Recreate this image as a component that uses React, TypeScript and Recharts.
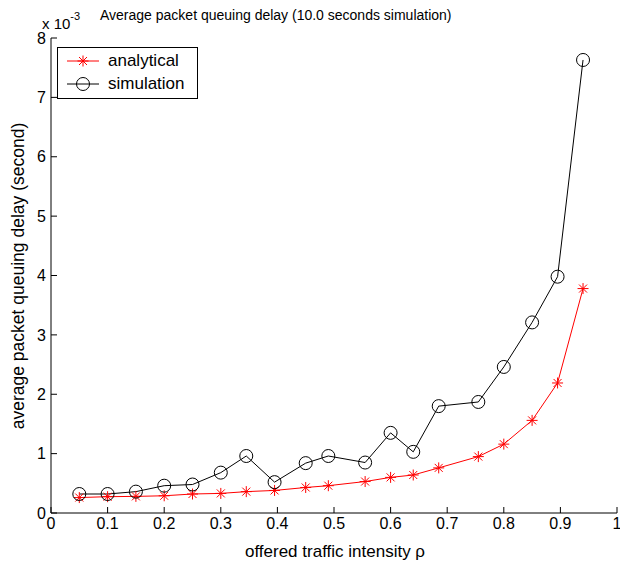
import React from 'react';
import { LineChart, Line, XAxis, YAxis } from 'recharts';

const rho = [0.05, 0.1, 0.15, 0.2, 0.25, 0.3, 0.345, 0.395, 0.45, 0.49, 0.555, 0.6, 0.64, 0.685, 0.755, 0.8, 0.85, 0.895, 0.94];
const analytical = [0.26, 0.275, 0.28, 0.29, 0.32, 0.33, 0.36, 0.38, 0.43, 0.46, 0.53, 0.6, 0.64, 0.76, 0.95, 1.16, 1.56, 2.19, 3.78];
const simulation = [0.32, 0.32, 0.36, 0.46, 0.48, 0.68, 0.96, 0.52, 0.84, 0.96, 0.85, 1.35, 1.03, 1.8, 1.87, 2.46, 3.21, 3.98, 7.63];
const xTicks = [0, 0.1, 0.2, 0.3, 0.4, 0.5, 0.6, 0.7, 0.8, 0.9, 1];
const yTicks = [0, 1, 2, 3, 4, 5, 6, 7, 8];

const data = rho.map((r, i) => ({ rho: r, analytical: analytical[i], simulation: simulation[i] }));

const FONT = '"Liberation Sans", Arial, Helvetica, sans-serif';

const Star = (props: any) => {
  const { cx, cy } = props;
  if (cx == null || cy == null) return null;
  const s = 5.5;
  const d = 4;
  return (
    <g stroke="#ff0000" strokeWidth={1}>
      <line x1={cx - s} y1={cy} x2={cx + s} y2={cy} />
      <line x1={cx} y1={cy - s} x2={cx} y2={cy + s} />
      <line x1={cx - d} y1={cy - d} x2={cx + d} y2={cy + d} />
      <line x1={cx - d} y1={cy + d} x2={cx + d} y2={cy - d} />
    </g>
  );
};

const Circ = (props: any) => {
  const { cx, cy } = props;
  if (cx == null || cy == null) return null;
  return <circle cx={cx} cy={cy} r={6.5} fill="none" stroke="#000" strokeWidth={1} />;
};

const LegendBox = () => (
  <div
    style={{
      position: 'absolute',
      left: 57,
      top: 47,
      border: '1px solid #000',
      background: '#fff',
      width: 141,
      height: 52,
      boxSizing: 'border-box',
      fontFamily: FONT,
      fontSize: 17,
      color: '#000',
    }}
  >
    {[
      { name: 'analytical', color: '#ff0000', star: true, y: 13 },
      { name: 'simulation', color: '#000', star: false, y: 36 },
    ].map((e) => (
      <div key={e.name} style={{ position: 'absolute', left: 0, top: e.y - 12, height: 24, display: 'flex', alignItems: 'center' }}>
        <svg width={50} height={24} style={{ display: 'block' }}>
          <line x1={9} y1={12} x2={41} y2={12} stroke={e.color} strokeWidth={1} />
          {e.star ? <Star cx={25} cy={12} /> : <Circ cx={25} cy={12} />}
        </svg>
        <span style={{ lineHeight: '24px' }}>{e.name}</span>
      </div>
    ))}
  </div>
);

const fmtX = (v: number) => (v === 0 ? '0' : v === 1 ? '1' : v.toFixed(1));

export default function App() {
  const tickStyle = { fontFamily: FONT, fontSize: 16, fill: '#000' };
  return (
    <div style={{ position: 'absolute', left: 0, top: 0, width: 620, height: 566, background: '#fff' }}>
      <LineChart width={620} height={566} data={data} margin={{ top: 38, right: 3, left: 0, bottom: 0 }}>
        <XAxis
          xAxisId="b"
          dataKey="rho"
          type="number"
          domain={[0, 1]}
          ticks={xTicks}
          tickFormatter={fmtX}
          height={53}
          tickSize={-6}
          tickMargin={11}
          tick={tickStyle}
          stroke="#000"
          interval={0}
          allowDataOverflow
          label={(p: any) => (
            <text x={335} y={551} textAnchor="middle" dominantBaseline="central" fontFamily={FONT} fontSize={17} fill="#000">
              offered traffic intensity ρ
            </text>
          )}
        />
        <XAxis
          xAxisId="t"
          orientation="top"
          dataKey="rho"
          type="number"
          domain={[0, 1]}
          ticks={xTicks}
          height={0}
          tickSize={6}
          tick={false}
          stroke="#000"
          interval={0}
        />
        <YAxis
          yAxisId="l"
          type="number"
          domain={[0, 8]}
          ticks={yTicks}
          width={51}
          tickSize={-6}
          tickMargin={11}
          tick={tickStyle}
          stroke="#000"
          interval={0}
          label={(p: any) => (
            <text x={18} y={276} transform="rotate(-90 18 276)" textAnchor="middle" dominantBaseline="central" fontFamily={FONT} fontSize={17.5} fill="#000">
              average packet queuing delay (second)
            </text>
          )}
        />
        <YAxis yAxisId="r" orientation="right" type="number" domain={[0, 8]} ticks={yTicks} width={0} tickSize={6} tick={false} stroke="#000" interval={0} />
        <Line
          xAxisId="b"
          yAxisId="l"
          dataKey="analytical"
          stroke="#ff0000"
          strokeWidth={1}
          dot={<Star />}
          activeDot={false}
          isAnimationActive={false}
        />
        <Line
          xAxisId="b"
          yAxisId="l"
          dataKey="simulation"
          stroke="#000"
          strokeWidth={1}
          dot={<Circ />}
          activeDot={false}
          isAnimationActive={false}
        />
      </LineChart>
      <LegendBox />
      <div style={{ position: 'absolute', left: 100, top: 7, fontFamily: FONT, fontSize: 14, color: '#000', whiteSpace: 'nowrap', lineHeight: '16px' }}>
        Average packet queuing delay (10.0 seconds simulation)
      </div>
      <div style={{ position: 'absolute', left: 42, top: 11, fontFamily: FONT, fontSize: 15, color: '#000', whiteSpace: 'nowrap', lineHeight: '16px' }}>
        x 10<sup style={{ fontSize: 11, position: 'relative', top: -3 }}>-3</sup>
      </div>
    </div>
  );
}
